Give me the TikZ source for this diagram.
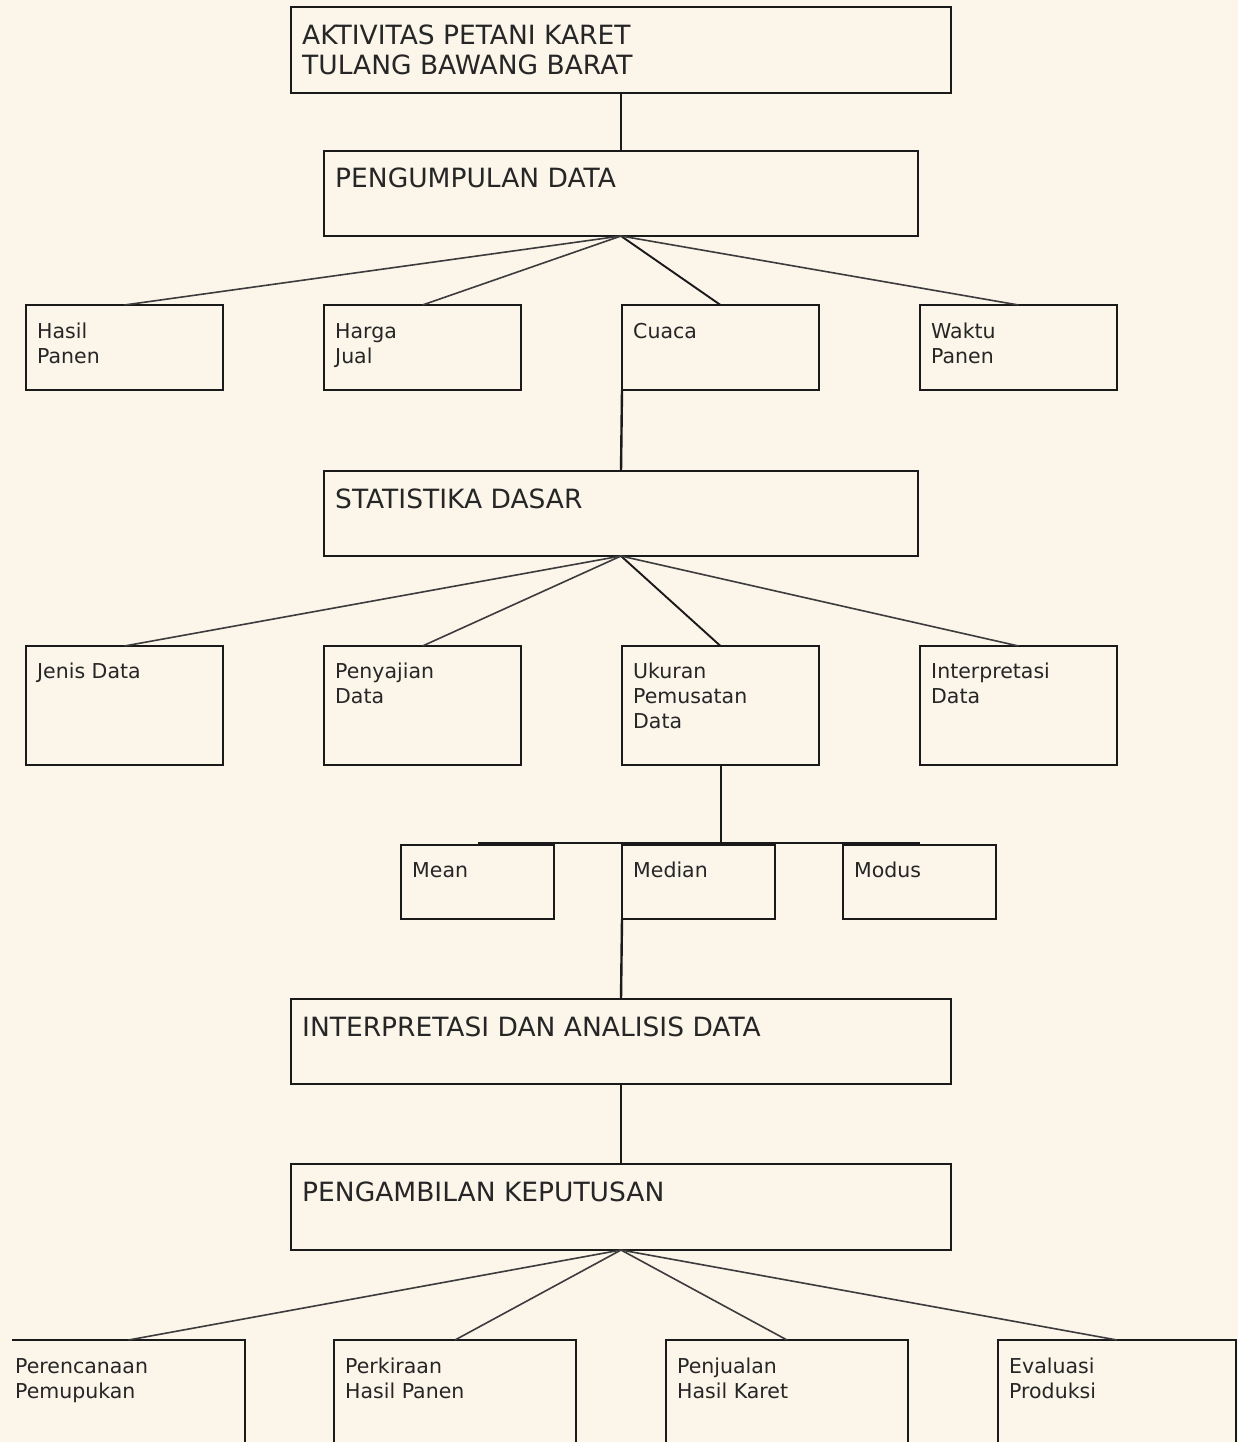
\documentclass[tikz,border=0pt]{standalone}
\usepackage{fontspec}
\setmainfont{DejaVu Sans}
\definecolor{bg}{HTML}{FBF5EA}
\definecolor{ink}{HTML}{1A1A1A}
\definecolor{txtc}{HTML}{262626}
\newcommand{\ml}[1]{\begin{tabular}[t]{@{}l@{}}#1\end{tabular}}
\tikzset{
  box/.style={draw=ink, line width=2.8pt, rectangle, inner sep=0pt, outer sep=0pt, fill=none},
  openbox/.style={box, draw=none},
  edge3/.style={draw=ink, line width=2.8pt},
  bigtxt/.style={text=txtc, font=\fontsize{26.5}{30}\selectfont, inner sep=0pt, anchor=base west},
  smalltxt/.style={text=txtc, font=\fontsize{20.5}{25}\selectfont, inner sep=0pt, anchor=base west},
  vlink/.style={draw=ink, line width=2.4pt},
  dlink/.style={draw=ink!85, line width=1.6pt},
}
\newcommand{\mkbox}[8]{% style, name, x1, y1, x2, y2, baseline offset, text
  \node[box, minimum width={(#5-#3)*1pt}, minimum height={(#6-#4)*1pt}] (#2) at ({(#3+#5)/2},{(#4+#6)/2}) {};
  \node[#1] (#2t) at (#3+11,#4+#7) {\ml{#8}};
}
\begin{document}
\begin{tikzpicture}[x=1pt,y=-1pt]
\fill[bg] (0,0) rectangle (1238,1442);
\useasboundingbox (0,0) rectangle (1238,1442);
\clip (0,0) rectangle (1238,1442);
\mkbox{bigtxt}{top}{291}{7}{951}{93}{38}{AKTIVITAS PETANI KARET\\TULANG BAWANG BARAT}
\mkbox{bigtxt}{pd}{324}{151}{918}{236}{37}{PENGUMPULAN DATA}
\mkbox{smalltxt}{hp}{26}{305}{223}{390}{33}{Hasil\\Panen}
\mkbox{smalltxt}{hj}{324}{305}{521}{390}{33}{Harga\\Jual}
\mkbox{smalltxt}{cu}{622}{305}{819}{390}{33}{Cuaca}
\mkbox{smalltxt}{wp}{920}{305}{1117}{390}{33}{Waktu\\Panen}
\mkbox{bigtxt}{sd}{324}{471}{918}{556}{37}{STATISTIKA DASAR}
\mkbox{smalltxt}{jd}{26}{646}{223}{765}{32}{Jenis Data}
\mkbox{smalltxt}{pj}{324}{646}{521}{765}{32}{Penyajian\\Data}
\mkbox{smalltxt}{uk}{622}{646}{819}{765}{32}{Ukuran\\Pemusatan\\Data}
\mkbox{smalltxt}{id}{920}{646}{1117}{765}{32}{Interpretasi\\Data}
\mkbox{smalltxt}{me}{401}{845}{554}{919}{32}{Mean}
\mkbox{smalltxt}{md}{622}{845}{775}{919}{32}{Median}
\mkbox{smalltxt}{mo}{843}{845}{996}{919}{32}{Modus}
\mkbox{bigtxt}{ia}{291}{999}{951}{1084}{37}{INTERPRETASI DAN ANALISIS DATA}
\mkbox{bigtxt}{pk}{291}{1164}{951}{1250}{37}{PENGAMBILAN KEPUTUSAN}
% bottom-left box: its left side lies outside the picture
\node[openbox, minimum width={(245-12)*1pt}, minimum height={(1470-1340)*1pt}] (pp) at ({(12+245)/2},{(1340+1470)/2}) {};
\draw[edge3] (pp.north west) -- (pp.north east) -- (pp.south east);
\node[smalltxt] (ppt) at (15,1373) {\ml{Perencanaan\\Pemupukan}};
\mkbox{smalltxt}{ph}{334}{1340}{576}{1470}{33}{Perkiraan\\Hasil Panen}
\mkbox{smalltxt}{hk}{666}{1340}{908}{1470}{33}{Penjualan\\Hasil Karet}
\mkbox{smalltxt}{ep}{998}{1340}{1236}{1470}{33}{Evaluasi\\Produksi}
% connectors
\draw[vlink] (top.south) -- (pd.north);
\draw[dlink] (pd.south) -- (hp.north);
\draw[dlink] (pd.south) -- (hj.north);
\draw[vlink, line width=1.9pt] (pd.south) -- (cu.north);
\draw[dlink] (pd.south) -- (wp.north);
\draw[vlink] (cu.south west) -- (sd.north);
\draw[dlink] (sd.south) -- (jd.north);
\draw[dlink] (sd.south) -- (pj.north);
\draw[vlink, line width=1.9pt] (sd.south) -- (uk.north);
\draw[dlink] (sd.south) -- (id.north);
\coordinate (bar) at (720.5,843);
\coordinate (barL) at (478,843);
\coordinate (barR) at (920,843);
\draw[vlink, line width=2pt] (uk.south) -- (bar);
\draw[vlink] (barL) -- (barR);
\draw[vlink] (md.south west) -- (ia.north);
\draw[vlink] (ia.south) -- (pk.north);
\draw[dlink] (pk.south) -- (pp.north);
\draw[dlink] (pk.south) -- (ph.north);
\draw[dlink] (pk.south) -- (hk.north);
\draw[dlink] (pk.south) -- (ep.north);
\end{tikzpicture}
\end{document}
